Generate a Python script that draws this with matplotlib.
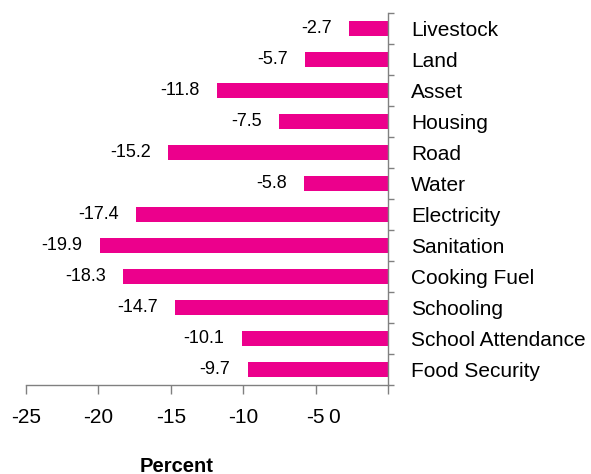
import matplotlib
matplotlib.use("Agg")
import matplotlib.pyplot as plt
import numpy as np

categories = ["Livestock", "Land", "Asset", "Housing", "Road", "Water",
              "Electricity", "Sanitation", "Cooking Fuel", "Schooling",
              "School Attendance", "Food Security"]
values = [-2.7, -5.7, -11.8, -7.5, -15.2, -5.8, -17.4, -19.9, -18.3, -14.7, -10.1, -9.7]
xticks = [-25, -20, -15, -10, -5]
xticklabels = ["-25", "-20", "-15", "-10", "-5"]

plt.rcParams['font.family'] = ['Liberation Sans', 'DejaVu Sans']

fig = plt.figure(figsize=(5.91, 4.74), dpi=100)
ax = fig.add_axes([26/591, 1-385/474, (388-26)/591, (385-12.8)/474])

n = len(categories)
ypos = np.arange(n)[::-1]
color = '#EC008C'
ax.barh(ypos, values, height=0.5, color=color)

for y, v in zip(ypos, values):
    ax.annotate(f"{v:.1f}", xy=(v, y), xytext=(-12.5, 0), textcoords='offset points',
                ha='right', va='center', fontsize=13, color='black')

ax.set_xlim(-25, 0)
ax.set_ylim(-0.5, n - 0.5)

for s in ['top', 'left']:
    ax.spines[s].set_visible(False)
for s in ['bottom', 'right']:
    ax.spines[s].set_color('#808080')
    ax.spines[s].set_linewidth(1.0)

tick_len = 6.5
tick_pad = 10
ax.set_xticks(xticks + [0])
ax.set_xticklabels(xticklabels + [""], fontsize=15)
ax.tick_params(axis='x', direction='out', length=tick_len, width=1.0, color='#808080',
               pad=tick_pad)
ax.text(-3.75, -(tick_len + tick_pad) / 72 * 100 / (385 - 12.8), "0",
        transform=ax.get_xaxis_transform(), ha='center', va='top', fontsize=15)

ax.yaxis.tick_right()
ax.set_yticks(ypos)
ax.set_yticklabels(categories, fontsize=15)
ax.tick_params(axis='y', which='major', length=0, pad=16.5)
ax.set_yticks(np.arange(-0.5, n, 1.0), minor=True)
ax.tick_params(axis='y', which='minor', direction='out', length=4.5, width=1.0,
               color='#808080', right=True, left=False)

fig.text(177/591, 1-466/474, "Percent", ha='center', va='center', fontsize=14.5,
         fontweight='bold')

fig.savefig("out.png", dpi=100)
